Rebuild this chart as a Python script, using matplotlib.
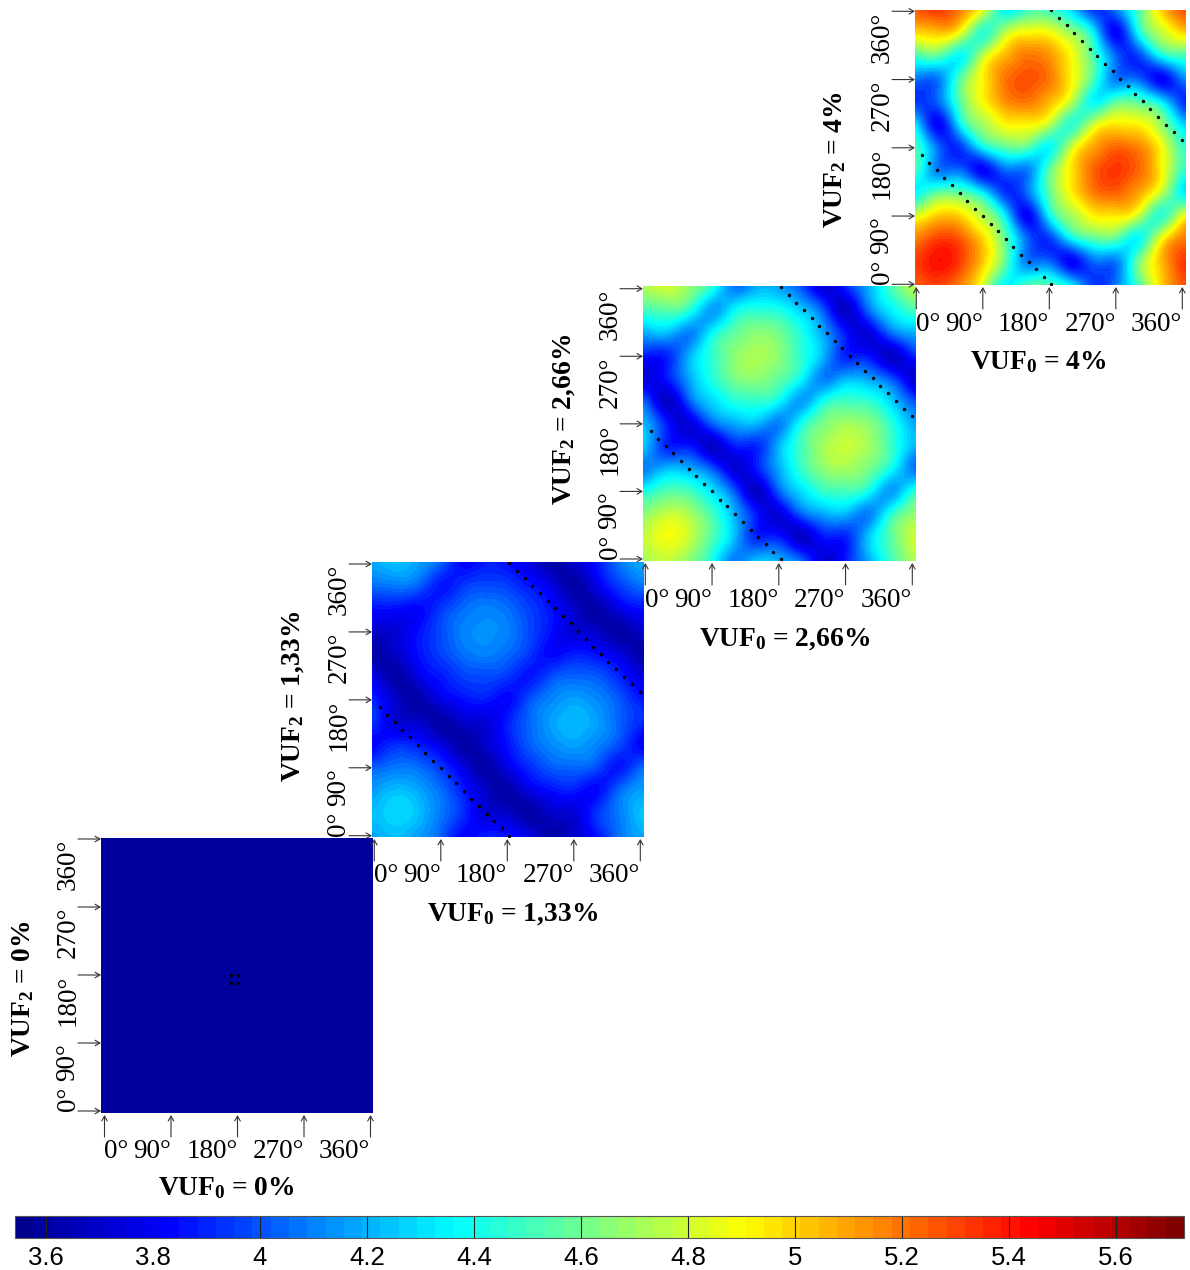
import matplotlib
matplotlib.use("Agg")
import numpy as np
import matplotlib.pyplot as plt
from matplotlib.colors import LinearSegmentedColormap, Normalize
from matplotlib.cm import ScalarMappable

plt.rcParams['mathtext.fontset'] = 'custom'
plt.rcParams['mathtext.bf'] = 'Liberation Serif:bold'
plt.rcParams['mathtext.rm'] = 'Liberation Serif:bold'
plt.rcParams['mathtext.default'] = 'bf'

# values on a 30 degree grid, row = VUF2 angle 0..360, column = VUF0 angle 0..360
grid_angles = [0, 30, 60, 90, 120, 150, 180, 210, 240, 270, 300, 330, 360]

panel_4_rows = [
    [5.25, 5.31, 5.17, 4.84, 4.37, 4.50, 4.50, 4.30, 3.95, 4.08, 4.50, 4.97, 5.25],
    [5.31, 5.42, 5.31, 5.02, 4.58, 4.09, 4.05, 3.82, 4.05, 4.09, 4.58, 5.02, 5.31],
    [5.17, 5.31, 5.25, 4.99, 4.57, 4.05, 3.95, 4.35, 4.55, 4.55, 4.37, 4.84, 5.17],
    [4.84, 5.02, 4.99, 4.75, 4.35, 3.82, 4.35, 4.71, 4.92, 4.95, 4.79, 4.46, 4.84],
    [4.37, 4.58, 4.57, 4.35, 3.95, 4.05, 4.55, 4.92, 5.17, 5.23, 5.10, 4.79, 4.37],
    [4.50, 4.09, 4.05, 3.82, 4.05, 4.09, 4.55, 4.95, 5.23, 5.33, 5.23, 4.95, 4.50],
    [4.50, 4.05, 3.95, 4.35, 4.55, 4.55, 4.37, 4.79, 5.10, 5.23, 5.17, 4.92, 4.50],
    [4.30, 3.82, 4.35, 4.70, 4.90, 4.92, 4.76, 4.46, 4.79, 4.95, 4.92, 4.71, 4.30],
    [3.95, 4.05, 4.55, 4.90, 5.13, 5.19, 5.06, 4.76, 4.37, 4.55, 4.55, 4.35, 3.95],
    [4.08, 4.09, 4.55, 4.92, 5.19, 5.27, 5.19, 4.92, 4.52, 4.09, 4.05, 3.82, 4.08],
    [4.50, 4.55, 4.37, 4.76, 5.06, 5.19, 5.13, 4.90, 4.52, 4.05, 3.95, 4.35, 4.50],
    [4.97, 5.02, 4.84, 4.46, 4.76, 4.92, 4.90, 4.70, 4.35, 3.82, 4.35, 4.75, 4.97],
    [5.25, 5.31, 5.17, 4.84, 4.37, 4.50, 4.50, 4.30, 3.95, 4.08, 4.50, 4.97, 5.25],
]

panel_3_rows = [
    [4.72, 4.78, 4.66, 4.42, 4.10, 4.21, 4.18, 4.02, 3.74, 3.87, 4.18, 4.49, 4.72],
    [4.78, 4.88, 4.78, 4.54, 4.23, 3.90, 3.87, 3.69, 3.87, 3.90, 4.23, 4.54, 4.78],
    [4.66, 4.78, 4.72, 4.51, 4.20, 3.87, 3.74, 4.02, 4.18, 4.21, 4.10, 4.42, 4.66],
    [4.42, 4.54, 4.51, 4.32, 4.02, 3.69, 4.02, 4.29, 4.47, 4.50, 4.40, 4.16, 4.42],
    [4.10, 4.23, 4.20, 4.02, 3.74, 3.87, 4.18, 4.47, 4.66, 4.71, 4.62, 4.40, 4.10],
    [4.23, 3.90, 3.87, 3.69, 3.87, 3.90, 4.21, 4.50, 4.71, 4.78, 4.71, 4.50, 4.23],
    [4.20, 3.87, 3.74, 4.02, 4.18, 4.21, 4.10, 4.40, 4.62, 4.71, 4.66, 4.47, 4.20],
    [4.02, 3.69, 4.02, 4.28, 4.43, 4.46, 4.37, 4.16, 4.40, 4.50, 4.47, 4.29, 4.02],
    [3.74, 3.87, 4.18, 4.43, 4.61, 4.66, 4.57, 4.37, 4.10, 4.21, 4.18, 4.02, 3.74],
    [3.87, 3.90, 4.21, 4.46, 4.66, 4.72, 4.66, 4.46, 4.21, 3.90, 3.87, 3.69, 3.87],
    [4.18, 4.21, 4.10, 4.37, 4.57, 4.66, 4.61, 4.43, 4.18, 3.87, 3.74, 4.02, 4.18],
    [4.49, 4.54, 4.42, 4.16, 4.37, 4.46, 4.43, 4.28, 4.02, 3.69, 4.02, 4.32, 4.49],
    [4.72, 4.78, 4.66, 4.42, 4.10, 4.21, 4.18, 4.02, 3.74, 3.87, 4.18, 4.49, 4.72],
]

panel_2_rows = [
    [4.18, 4.23, 4.16, 4.03, 3.83, 3.88, 3.85, 3.76, 3.62, 3.70, 3.85, 4.06, 4.18],
    [4.23, 4.29, 4.23, 4.08, 3.92, 3.73, 3.70, 3.61, 3.70, 3.73, 3.92, 4.08, 4.23],
    [4.16, 4.23, 4.18, 4.06, 3.88, 3.70, 3.62, 3.76, 3.85, 3.88, 3.83, 4.03, 4.16],
    [4.03, 4.08, 4.06, 3.94, 3.76, 3.61, 3.76, 3.91, 4.02, 4.04, 3.99, 3.87, 4.03],
    [3.83, 3.92, 3.88, 3.76, 3.62, 3.70, 3.85, 4.02, 4.12, 4.17, 4.11, 3.99, 3.83],
    [3.92, 3.73, 3.70, 3.61, 3.70, 3.73, 3.88, 4.04, 4.17, 4.22, 4.17, 4.04, 3.92],
    [3.88, 3.70, 3.62, 3.76, 3.85, 3.88, 3.83, 3.99, 4.11, 4.17, 4.12, 4.02, 3.88],
    [3.76, 3.61, 3.76, 3.87, 3.96, 3.98, 3.94, 3.87, 3.99, 4.04, 4.02, 3.91, 3.76],
    [3.62, 3.70, 3.85, 3.96, 4.06, 4.10, 4.05, 3.94, 3.83, 3.88, 3.85, 3.76, 3.62],
    [3.70, 3.73, 3.85, 3.98, 4.10, 4.13, 4.10, 3.98, 3.85, 3.73, 3.70, 3.61, 3.70],
    [3.85, 3.85, 3.83, 3.94, 4.05, 4.10, 4.06, 3.96, 3.85, 3.70, 3.62, 3.76, 3.85],
    [4.06, 4.08, 4.03, 3.87, 3.94, 3.98, 3.96, 3.87, 3.76, 3.61, 3.76, 3.94, 4.06],
    [4.18, 4.23, 4.16, 4.03, 3.83, 3.88, 3.85, 3.76, 3.62, 3.70, 3.85, 4.06, 4.18],
]

panel_1_rows = [[3.58, 3.58], [3.58, 3.58]]

# dotted lines (degrees)
dots_low_x = [7.2, 17.6, 27.5, 37.4, 48.6, 59, 68.9, 79.7, 90.1, 100.5, 110.8, 121.6, 131.5, 141.9, 152.3, 162.6, 172.5, 182.9]
dots_low_y = [170.1, 160.4, 150.3, 140.7, 130.5, 120, 109.9, 99.3, 90.1, 79.1, 70.3, 59.3, 49.2, 38.7, 29, 19.8, 9.7, 0]
dots_up_x = [182.9, 193.2, 203.6, 214, 224.3, 234.7, 245, 255.4, 265.8, 275.7, 286, 296.4, 306.8, 316.7, 327.5, 337.8, 348.2, 359.5]
dots_up_y = [361.8, 351.2, 341.5, 331, 321.3, 310.8, 301.1, 291, 281.3, 270.8, 261.1, 250.5, 241.3, 230.8, 220.7, 210.5, 200.4, 189.9]
dots_centre_x = [171, 181, 171, 181]
dots_centre_y = [170, 170, 180, 180]

tick_angles = [0, 90, 180, 270, 360]
tick_text = ['0°', '90°', '180°', '270°', '360°']
cbar_ticks = [3.6, 3.8, 4, 4.2, 4.4, 4.6, 4.8, 5, 5.2, 5.4, 5.6]

W, H = 1190, 1270
VMIN, VMAX = 3.542, 5.727
cmap = LinearSegmentedColormap.from_list('jet64', [
    (0, (0, 0, .5625)), (.125, (0, 0, 1)), (.375, (0, 1, 1)),
    (.625, (1, 1, 0)), (.875, (1, 0, 0)), (1, (.5, 0, 0))], N=64)
norm = Normalize(VMIN, VMAX)

SERIF = 'Liberation Serif'
fig = plt.figure(figsize=(W / 100, H / 100), dpi=100)


def fx(px):
    return px / W


def fy(py):
    return 1 - py / H


panels = [
    dict(rows=panel_1_rows, img=(101, 373, 838, 1113), ax0=104.5, ax1=370.5, ay0=1111, ay1=839,
         xt='VUF$_{\\mathbf{0}}$ = 0%', xtp=(226, 1188), yt='VUF$_{\\mathbf{2}}$ = 0%', ytp=(23, 989),
         dots=[(dots_centre_x, dots_centre_y)]),
    dict(rows=panel_2_rows, img=(372, 644, 562, 837), ax0=374.3, ax1=640.3, ay0=835.7, ay1=564,
         xt='VUF$_{\\mathbf{0}}$ = 1,33%', xtp=(513, 914), yt='VUF$_{\\mathbf{2}}$ = 1,33%', ytp=(293, 696),
         dots=[(dots_low_x, dots_low_y), (dots_up_x, dots_up_y)]),
    dict(rows=panel_3_rows, img=(643, 916, 286, 561), ax0=645.3, ax1=912.3, ay0=559, ay1=288.7,
         xt='VUF$_{\\mathbf{0}}$ = 2,66%', xtp=(785, 639), yt='VUF$_{\\mathbf{2}}$ = 2,66%', ytp=(564, 419),
         dots=[(dots_low_x, dots_low_y), (dots_up_x, dots_up_y)]),
    dict(rows=panel_4_rows, img=(915, 1186, 10, 285), ax0=916.3, ax1=1182.3, ay0=284.3, ay1=11.3,
         xt='VUF$_{\\mathbf{0}}$ = 4%', xtp=(1038, 362), yt='VUF$_{\\mathbf{2}}$ = 4%', ytp=(835, 160),
         dots=[(dots_low_x, dots_low_y), (dots_up_x, dots_up_y)]),
]

for p in panels:
    l, r, t, b = p['img']
    ax = fig.add_axes([fx(l), fy(b), fx(r - l), (b - t) / H])
    sx = 360 / (p['ax1'] - p['ax0'])
    sy = 360 / (p['ay0'] - p['ay1'])
    x0, x1 = (l - p['ax0']) * sx, (r - p['ax0']) * sx
    y0, y1 = (p['ay0'] - b) * sy, (p['ay0'] - t) * sy
    arr = np.array(p['rows'], dtype=float)
    if arr.shape[0] == 2:
        ext = (-1000, 1000, -1000, 1000)
    else:
        ext = (-15, 375, -15, 375)
    ax.imshow(arr, origin='lower', extent=ext, cmap=cmap, norm=norm, aspect='auto',
              interpolation='lanczos', interpolation_stage='data')
    for dx, dy in p['dots']:
        ax.scatter(dx, dy, s=6, c='black', marker='o', linewidths=0, zorder=3)
    ax.set_xlim(x0, x1)
    ax.set_ylim(y0, y1)
    ax.axis('off')

    for a, txt in zip(tick_angles, tick_text):
        px = p['ax0'] + a / sx
        py = p['ay0'] - a / sy
        fig.add_artist(matplotlib.patches.FancyArrowPatch(
            (fx(px), fy(b + 24)), (fx(px), fy(b + 2)), transform=fig.transFigure,
            arrowstyle='->,head_length=3.5,head_width=2', lw=0.8, color='#333333',
            shrinkA=0, shrinkB=0))
        fig.add_artist(matplotlib.patches.FancyArrowPatch(
            (fx(l - 23), fy(py)), (fx(l), fy(py)), transform=fig.transFigure,
            arrowstyle='->,head_length=3.5,head_width=2', lw=0.8, color='#333333',
            shrinkA=0, shrinkB=0))
        if a == 0:
            fig.text(fx(px), fy(b + 39), txt, family=SERIF, fontsize=19.5, ha='left', va='center')
            fig.text(fx(l - 33), fy(py), txt, family=SERIF, fontsize=19.5, ha='center', va='bottom',
                     rotation=90)
        else:
            fig.text(fx(px), fy(b + 39), txt, family=SERIF, fontsize=19.5, ha='right', va='center')
            fig.text(fx(l - 33), fy(py), txt, family=SERIF, fontsize=19.5, ha='center', va='top',
                     rotation=90)
    fig.text(fx(p['xtp'][0]), fy(p['xtp'][1]), p['xt'], family=SERIF, fontweight='bold', fontsize=19.8,
             ha='center', va='center')
    fig.text(fx(p['ytp'][0]), fy(p['ytp'][1]), p['yt'], family=SERIF, fontweight='bold', fontsize=19.8,
             ha='center', va='center', rotation=90)

cax = fig.add_axes([fx(15), fy(1238), fx(1184 - 15), 22 / H])
cb = fig.colorbar(ScalarMappable(norm=norm, cmap=cmap), cax=cax, orientation='horizontal',
                  ticks=cbar_ticks)
cb.ax.set_xticklabels([f'{v:g}' for v in cbar_ticks], family='Liberation Sans', fontsize=18.5)
cb.ax.tick_params(axis='x', direction='in', length=22 * 0.72, width=0.8, color='#222222', pad=6)
cb.outline.set_edgecolor('#555555')
cb.outline.set_linewidth(0.8)

fig.savefig('out.png', dpi=100)
